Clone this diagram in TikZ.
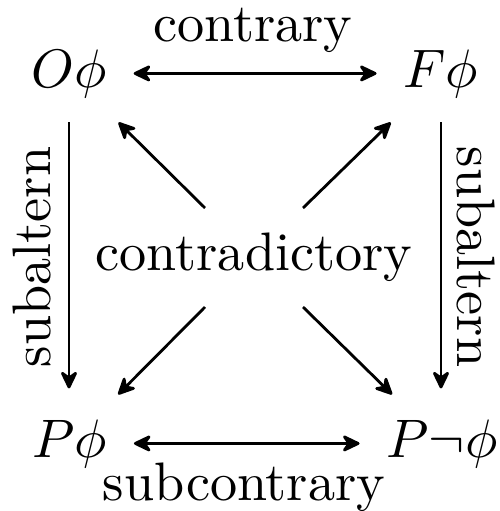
\documentclass[tikz,border=0pt]{standalone}
\usetikzlibrary{arrows.meta}
\begin{document}
\begin{tikzpicture}[x=1pt,y=-1pt,
  lbl/.style={scale=5.42,inner sep=0pt,anchor=base},
  term/.style={scale=5.42,inner xsep=4.8pt,inner ysep=4.4pt,anchor=base},
  tip/.style={Stealth[length=21pt,width=20pt,inset=7pt,round]},
  arr/.style={line width=2.8pt,-{Stealth[length=21pt,width=20pt,inset=7pt,round]}},
  darr/.style={line width=2.8pt,{Stealth[length=21pt,width=20pt,inset=7pt,round]}-{Stealth[length=21pt,width=20pt,inset=7pt,round]}}]
\useasboundingbox (0,0) rectangle (500,511);
\node[term] (O) at (69,87) {$O\phi$};
\node[term] (F) at (441,87) {$F\phi$};
\node[term] (P) at (69.5,457) {$P\phi$};
\node[term] (Q) at (442,457) {$P\neg\phi$};
\node[lbl] (ct) at (253,42) {contrary};
\node[lbl] (sc) at (244,500) {subcontrary};
\node[lbl] (cd) at (254,270) {contradictory};
\node[lbl,rotate=90] (sl) at (50,257) {subaltern};
\node[lbl,rotate=-90] (sr) at (457,257) {subaltern};
\coordinate (t1) at (205,208);
\coordinate (t2) at (303,208);
\coordinate (t3) at (205,307);
\coordinate (t4) at (303,307);
\draw[darr] (O) -- (F);
\draw[darr] (P) -- (Q);
\draw[arr,shorten >=6pt] (O.south) -- (O.south |- P.north);
\draw[arr,shorten >=6pt] (F.south) -- (F.south |- Q.north);
\draw[arr] (t1) -- (O);
\draw[arr] (t2) -- (F);
\draw[arr] (t3) -- (P);
\draw[arr] (t4) -- (Q);
\end{tikzpicture}
\end{document}
